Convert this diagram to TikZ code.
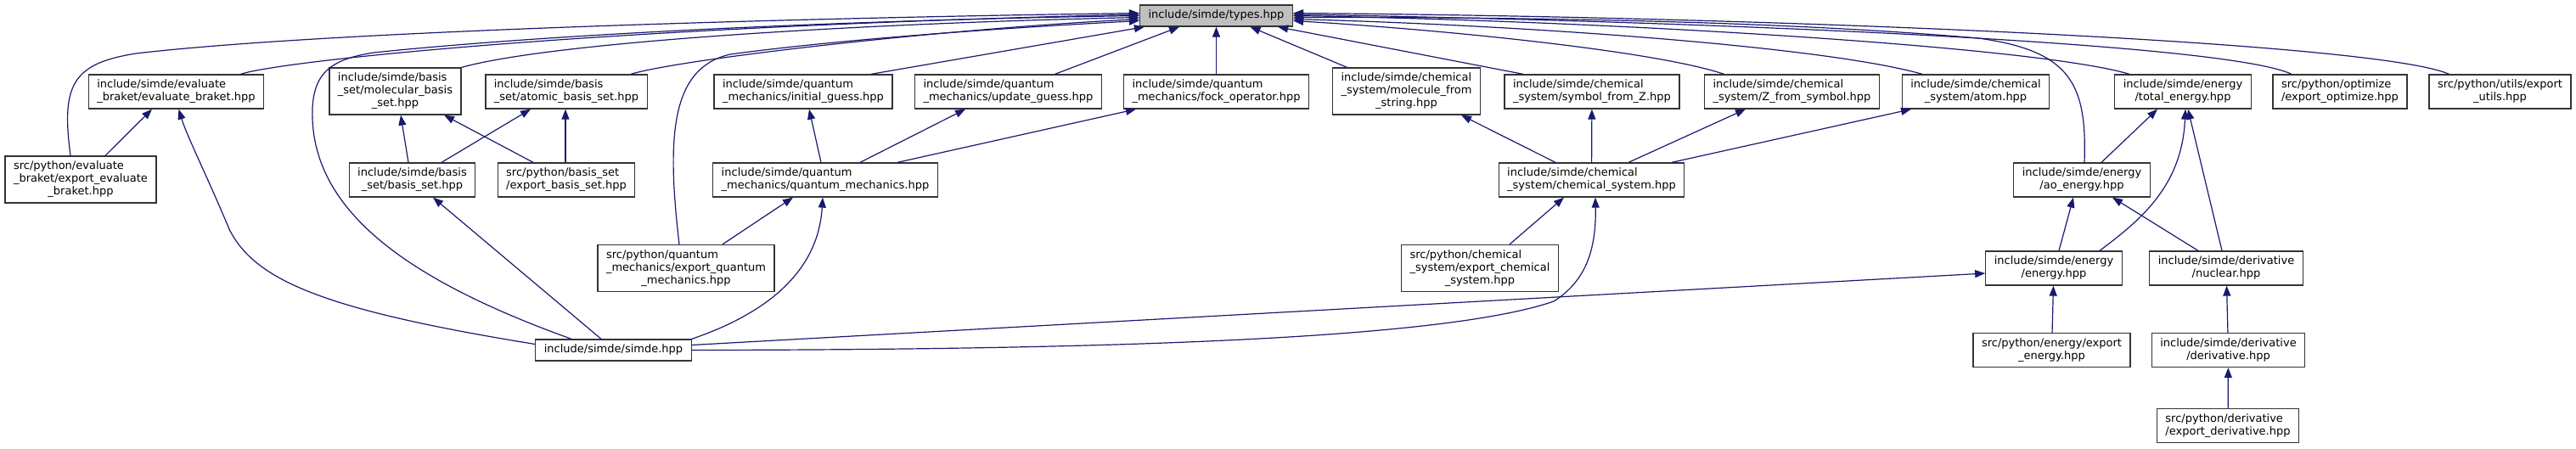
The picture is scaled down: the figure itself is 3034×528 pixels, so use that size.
\documentclass[tikz,border=0pt]{standalone}
\usepackage{fontspec}
\setmainfont{DejaVu Sans}
\usetikzlibrary{arrows.meta}
\definecolor{edgeblue}{HTML}{191970}
\newcommand{\fname}[1]{\begin{tabular}{@{}l@{}}#1\end{tabular}}
\newcommand{\lastl}[1]{\multicolumn{1}{@{}c@{}}{#1}}

\begin{document}
\begin{tikzpicture}[x=1pt,y=-1pt,
  box/.style={rectangle,draw=black!80,line width=1.3pt,fill=white,
    inner xsep=10pt,inner ysep=5pt,font=\fontsize{13}{15}\selectfont},
  dep/.style={draw=edgeblue,line width=1.2pt,
    -{Triangle[length=12pt,width=9pt,fill=edgeblue]}}]
  \useasboundingbox (0,0) rectangle (3034,528);

  \node[box,fill=black!25] (types) at (1432.5,18.5) {\fname{include/simde/types.hpp}};

  \node[box] (evb) at (207.5,108) {\fname{include/simde/evaluate\\\lastl{\_braket/evaluate\_braket.hpp}}};
  \node[box] (molb) at (465.5,107.5) {\fname{include/simde/basis\\\_set/molecular\_basis\\\lastl{\_set.hpp}}};
  \node[box] (atomb) at (667,108) {\fname{include/simde/basis\\\lastl{\_set/atomic\_basis\_set.hpp}}};
  \node[box] (initg) at (946,108) {\fname{include/simde/quantum\\\lastl{\_mechanics/initial\_guess.hpp}}};
  \node[box] (updg) at (1187.5,108) {\fname{include/simde/quantum\\\lastl{\_mechanics/update\_guess.hpp}}};
  \node[box] (fock) at (1432.5,108) {\fname{include/simde/quantum\\\lastl{\_mechanics/fock\_operator.hpp}}};
  \node[box] (molstr) at (1656.5,107.5) {\fname{include/simde/chemical\\\_system/molecule\_from\\\lastl{\_string.hpp}}};
  \node[box] (symZ) at (1875,108) {\fname{include/simde/chemical\\\lastl{\_system/symbol\_from\_Z.hpp}}};
  \node[box] (Zsym) at (2110.5,108) {\fname{include/simde/chemical\\\lastl{\_system/Z\_from\_symbol.hpp}}};
  \node[box] (atom) at (2327,108) {\fname{include/simde/chemical\\\lastl{\_system/atom.hpp}}};
  \node[box] (toten) at (2571,108) {\fname{include/simde/energy\\\lastl{/total\_energy.hpp}}};
  \node[box] (expopt) at (2756,108) {\fname{src/python/optimize\\\lastl{/export\_optimize.hpp}}};
  \node[box] (exputil) at (2944.5,108) {\fname{src/python/utils/export\\\lastl{\_utils.hpp}}};

  \node[box] (expevb) at (95,211.5) {\fname{src/python/evaluate\\\_braket/export\_evaluate\\\lastl{\_braket.hpp}}};
  \node[box] (bset) at (485.5,212) {\fname{include/simde/basis\\\lastl{\_set/basis\_set.hpp}}};
  \node[box] (expbset) at (667,212) {\fname{src/python/basis\_set\\\lastl{/export\_basis\_set.hpp}}};
  \node[box] (qm) at (972,212) {\fname{include/simde/quantum\\\lastl{\_mechanics/quantum\_mechanics.hpp}}};
  \node[box] (chemsys) at (1874.5,212) {\fname{include/simde/chemical\\\lastl{\_system/chemical\_system.hpp}}};
  \node[box] (aoen) at (2452,212) {\fname{include/simde/energy\\\lastl{/ao\_energy.hpp}}};

  \node[box] (expqm) at (808,316) {\fname{src/python/quantum\\\_mechanics/export\_quantum\\\lastl{\_mechanics.hpp}}};
  \node[box] (expcs) at (1743,316) {\fname{src/python/chemical\\\_system/export\_chemical\\\lastl{\_system.hpp}}};
  \node[box] (energy) at (2419,316) {\fname{include/simde/energy\\\lastl{/energy.hpp}}};
  \node[box] (nuclear) at (2622,316) {\fname{include/simde/derivative\\\lastl{/nuclear.hpp}}};

  \node[box] (simde) at (722.5,412.5) {\fname{include/simde/simde.hpp}};
  \node[box] (expen) at (2416.5,412.5) {\fname{src/python/energy/export\\\lastl{\_energy.hpp}}};
  \node[box] (deriv) at (2624.5,412.5) {\fname{include/simde/derivative\\\lastl{/derivative.hpp}}};

  \node[box] (expder) at (2624,501.5) {\fname{src/python/derivative\\\lastl{/export\_derivative.hpp}}};

  % into types.hpp, left side
  \draw[dep] ([xshift=-12pt]expevb.north) .. controls (72,100) and (85,75) .. (160,63)
    .. controls (400,35) and (1000,20) .. ([yshift=3pt]types.west);
  \draw[dep] ([xshift=76pt]evb.north) .. controls (330,72) and (700,32) .. ([yshift=1.5pt]types.west);
  \draw[dep] ([xshift=-49.5pt]simde.north) .. controls (480,330) and (372,250) .. (368,140)
    .. controls (366,85) and (390,70) .. (440,62)
    .. controls (700,35) and (1100,22) .. (types.west);
  \draw[dep] (molb.north east) .. controls (650,50) and (1000,28) .. ([yshift=-2pt]types.west);
  \draw[dep] ([xshift=76pt]atomb.north) .. controls (800,70) and (1100,35) .. ([yshift=-4pt]types.west);
  \draw[dep] ([xshift=-8pt]expqm.north) .. controls (785,160) and (790,80) .. (860,64)
    .. controls (1000,45) and (1200,32) .. ([yshift=-6pt]types.west);
  \draw[dep] ([xshift=80pt]initg.north) -- ([xshift=6pt]types.south west);
  \draw[dep] ([xshift=55pt]updg.north) -- ([xshift=-43.5pt]types.south);
  \draw[dep] (fock) -- (types);
  \draw[dep] ([xshift=-70pt]molstr.north) -- ([xshift=40pt]types.south);
  \draw[dep] ([xshift=-81pt]symZ.north) -- ([xshift=-18pt]types.south east);

  % into types.hpp, right side
  \draw[dep] ([xshift=-80pt]Zsym.north) .. controls (1950,60) and (1700,35) .. ([yshift=-6pt]types.east);
  \draw[dep] ([xshift=-63pt]atom.north) .. controls (2150,55) and (1800,30) .. ([yshift=-4pt]types.east);
  \draw[dep] ([xshift=3pt]aoen.north) .. controls (2458,100) and (2440,60) .. (2330,45)
    .. controls (2100,25) and (1800,20) .. ([yshift=-2pt]types.east);
  \draw[dep] ([xshift=-63pt]toten.north) .. controls (2400,55) and (1900,25) .. (types.east);
  \draw[dep] ([xshift=-57pt]expopt.north) .. controls (2620,50) and (2000,25) .. ([yshift=1.5pt]types.east);
  \draw[dep] ([xshift=-60pt]exputil.north) .. controls (2800,50) and (2100,20) .. ([yshift=3pt]types.east);

  % left group
  \draw[dep] ([xshift=29pt]expevb.north) -- ([xshift=-28.5pt]evb.south);
  \draw[dep] ([yshift=7pt]simde.west) .. controls (380,365) and (300,330) .. (270,270)
    .. controls (245,210) and (220,160) .. ([xshift=3pt]evb.south);
  \draw[dep] ([xshift=-4.5pt]bset.north) -- ([xshift=6.5pt]molb.south);
  \draw[dep] ([xshift=34.5pt]bset.north) -- ([xshift=-42pt]atomb.south);
  \draw[dep] ([xshift=-39pt]expbset.north) -- ([xshift=57.5pt]molb.south);
  \draw[dep] ([xshift=-1pt]expbset.north) -- ([xshift=-1pt]atomb.south);
  \draw[dep] ([xshift=-14.5pt]simde.north) -- ([xshift=24.5pt]bset.south);

  % quantum mechanics
  \draw[dep] ([xshift=-5pt]qm.north) -- ([xshift=7pt]initg.south);
  \draw[dep] ([xshift=41pt]qm.north) -- ([xshift=-50.5pt]updg.south);
  \draw[dep] ([xshift=85pt]qm.north) -- ([xshift=-94.5pt]fock.south);
  \draw[dep] ([xshift=43pt]expqm.north) -- ([xshift=-38pt]qm.south);
  \draw[dep] (simde.north east) .. controls (930,360) and (965,300) .. ([xshift=-3pt]qm.south);

  % chemical system
  \draw[dep] ([xshift=-42.5pt]chemsys.north) -- ([xshift=64.5pt]molstr.south);
  \draw[dep] (chemsys) -- (symZ);
  \draw[dep] ([xshift=43.5pt]chemsys.north) -- ([xshift=-54.5pt]Zsym.south);
  \draw[dep] ([xshift=94.5pt]chemsys.north) -- ([xshift=-76pt]atom.south);
  \draw[dep] ([xshift=35pt]expcs.north) -- ([xshift=-32.5pt]chemsys.south);
  \draw[dep] (simde.east) .. controls (1300,412) and (1700,400) .. (1830,355)
    .. controls (1870,330) and (1880,290) .. ([xshift=4.5pt]chemsys.south);

  % energy and derivative
  \draw[dep] ([yshift=6pt]simde.east) -- ([yshift=-6pt]energy.west);
  \draw[dep] ([xshift=23pt]aoen.north) -- ([xshift=-30pt]toten.south);
  \draw[dep] ([xshift=54pt]energy.north) .. controls (2520,260) and (2570,220) .. ([xshift=3pt]toten.south);
  \draw[dep] ([xshift=-5pt]nuclear.north) -- ([xshift=6pt]toten.south);
  \draw[dep] ([xshift=6pt]energy.north) -- ([xshift=-10pt]aoen.south);
  \draw[dep] ([xshift=-33pt]nuclear.north) -- ([xshift=36pt]aoen.south);
  \draw[dep] (expen) -- (energy);
  \draw[dep] (deriv) -- (nuclear);
  \draw[dep] (expder) -- (deriv);
\end{tikzpicture}
\end{document}
